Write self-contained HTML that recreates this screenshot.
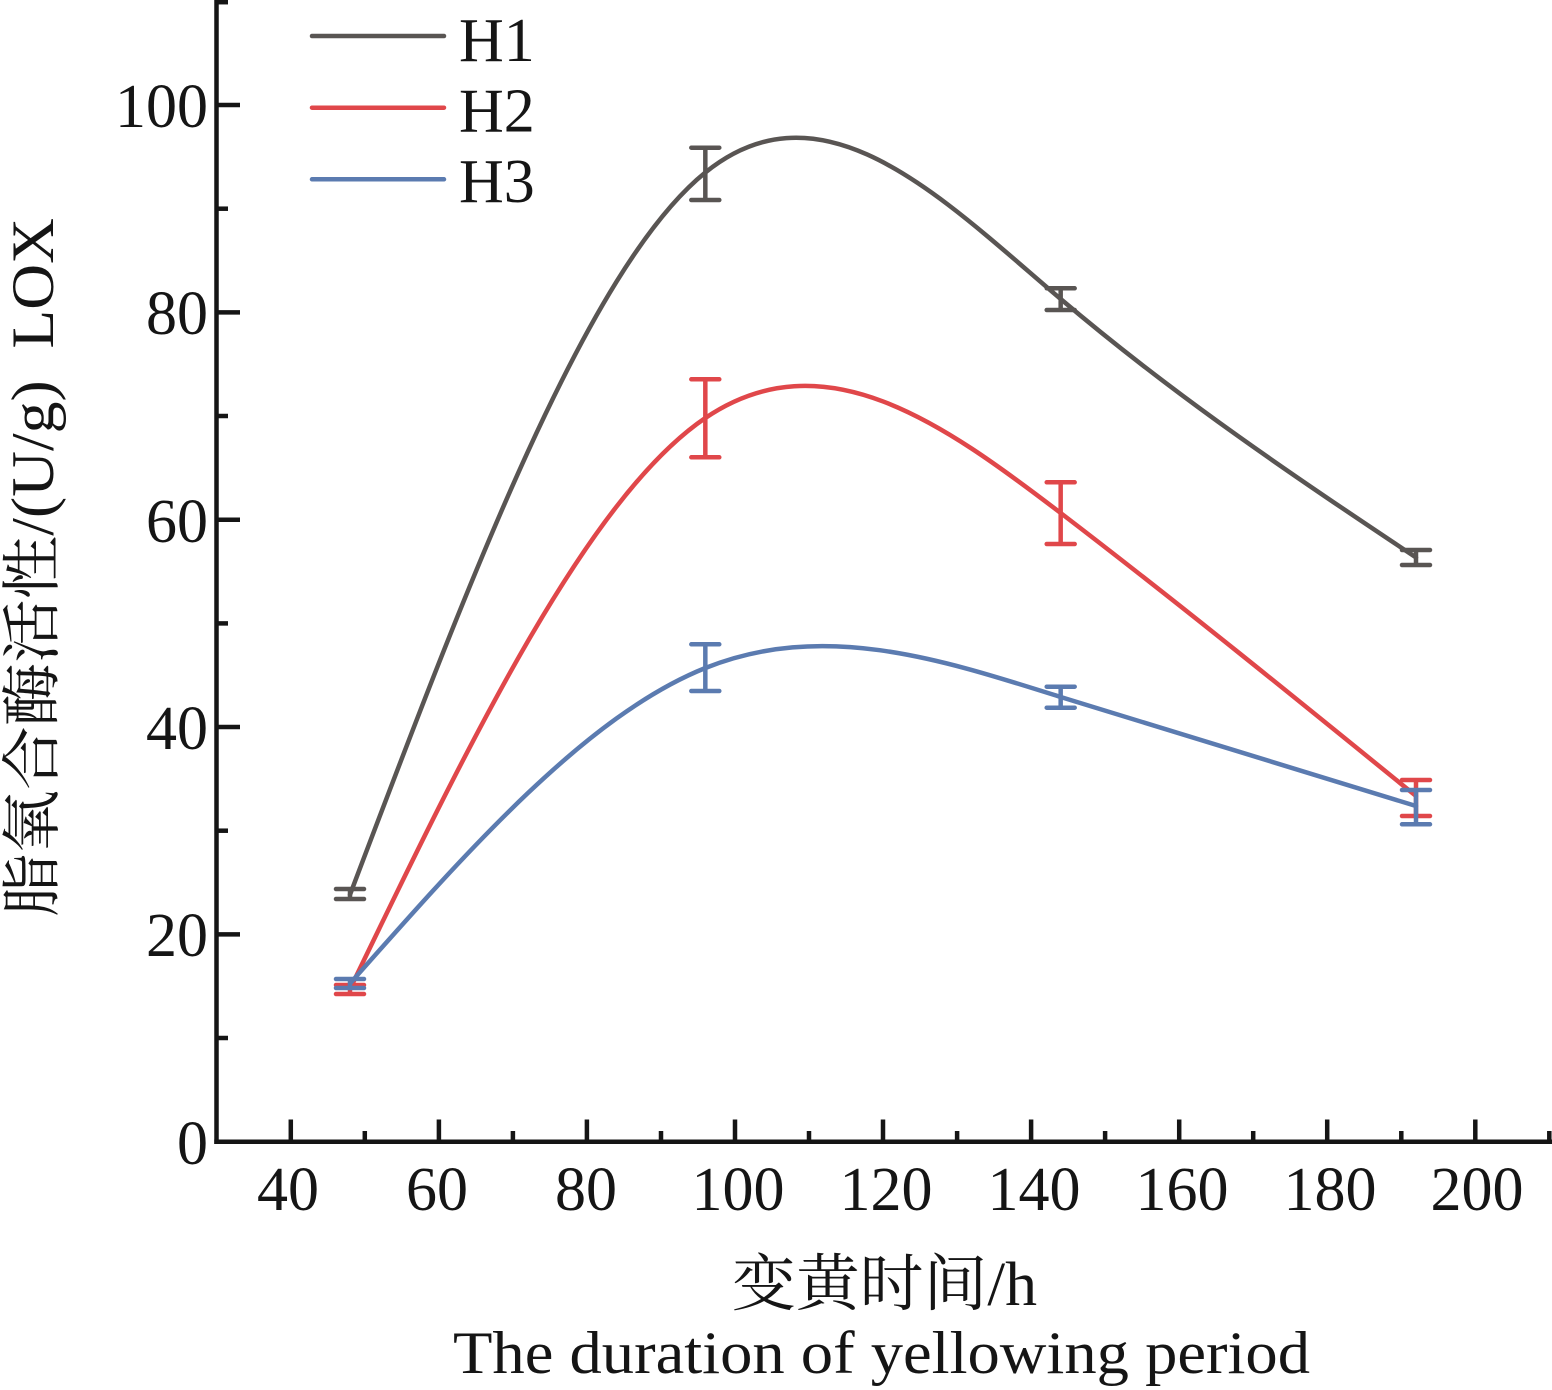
<!DOCTYPE html>
<html>
<head>
<meta charset="utf-8">
<style>
html,body{margin:0;padding:0;background:#fff;}
svg{display:block;}
</style>
</head>
<body>
<svg width="1552" height="1390" viewBox="0 0 1552 1390" xmlns="http://www.w3.org/2000/svg">
<rect width="1552" height="1390" fill="#fff"/>
<g stroke="#151515" stroke-width="4.5" fill="none">
  <line x1="216.5" y1="0" x2="216.5" y2="1144"/>
  <line x1="214.3" y1="1141.7" x2="1552" y2="1141.7"/>
  <line x1="216" y1="934.4" x2="240" y2="934.4"/>
  <line x1="216" y1="727.0" x2="240" y2="727.0"/>
  <line x1="216" y1="519.7" x2="240" y2="519.7"/>
  <line x1="216" y1="312.4" x2="240" y2="312.4"/>
  <line x1="216" y1="105.0" x2="240" y2="105.0"/>
  <line x1="216" y1="1038.0" x2="228" y2="1038.0"/>
  <line x1="216" y1="830.7" x2="228" y2="830.7"/>
  <line x1="216" y1="623.4" x2="228" y2="623.4"/>
  <line x1="216" y1="416.0" x2="228" y2="416.0"/>
  <line x1="216" y1="208.7" x2="228" y2="208.7"/>
  <line x1="216" y1="2.2" x2="228" y2="2.2"/>
  <line x1="290.8" y1="1142" x2="290.8" y2="1119.5"/>
  <line x1="438.9" y1="1142" x2="438.9" y2="1119.5"/>
  <line x1="586.9" y1="1142" x2="586.9" y2="1119.5"/>
  <line x1="735.0" y1="1142" x2="735.0" y2="1119.5"/>
  <line x1="883.0" y1="1142" x2="883.0" y2="1119.5"/>
  <line x1="1031.1" y1="1142" x2="1031.1" y2="1119.5"/>
  <line x1="1179.2" y1="1142" x2="1179.2" y2="1119.5"/>
  <line x1="1327.2" y1="1142" x2="1327.2" y2="1119.5"/>
  <line x1="1475.3" y1="1142" x2="1475.3" y2="1119.5"/>
  <line x1="364.8" y1="1142" x2="364.8" y2="1131"/>
  <line x1="512.9" y1="1142" x2="512.9" y2="1131"/>
  <line x1="661.0" y1="1142" x2="661.0" y2="1131"/>
  <line x1="809.0" y1="1142" x2="809.0" y2="1131"/>
  <line x1="957.1" y1="1142" x2="957.1" y2="1131"/>
  <line x1="1105.1" y1="1142" x2="1105.1" y2="1131"/>
  <line x1="1253.2" y1="1142" x2="1253.2" y2="1131"/>
  <line x1="1401.3" y1="1142" x2="1401.3" y2="1131"/>
  <line x1="1549.3" y1="1142" x2="1549.3" y2="1131"/>
</g>

<g font-family="'Liberation Serif', serif" font-size="62" fill="#151515" text-anchor="end">
  <text x="208" y="1164">0</text>
  <text x="208" y="956">20</text>
  <text x="208" y="749">40</text>
  <text x="208" y="542">60</text>
  <text x="208" y="334">80</text>
  <text x="208" y="127">100</text>
</g>
<g font-family="'Liberation Serif', serif" font-size="62" fill="#151515" text-anchor="middle">
  <text x="288" y="1210">40</text>
  <text x="437" y="1210">60</text>
  <text x="586" y="1210">80</text>
  <text x="738" y="1210">100</text>
  <text x="886" y="1210">120</text>
  <text x="1034" y="1210">140</text>
  <text x="1182" y="1210">160</text>
  <text x="1330" y="1210">180</text>
  <text x="1477" y="1210">200</text>
</g>

<text transform="translate(53,567.5) rotate(-90)" text-anchor="middle" font-family="'Liberation Serif','Noto Serif CJK SC',serif" font-size="60" fill="#151515" textLength="699" lengthAdjust="spacingAndGlyphs">脂氧合酶活性/(U/g)&#160;&#160;LOX</text>
<text x="884.5" y="1305" text-anchor="middle" font-family="'Liberation Serif','Noto Serif CJK SC',serif" font-size="62" fill="#151515" textLength="305" lengthAdjust="spacingAndGlyphs">变黄时间/h</text>
<text x="881.5" y="1373" text-anchor="middle" font-family="'Liberation Serif',serif" font-size="60" fill="#151515" textLength="857" lengthAdjust="spacingAndGlyphs">The duration of yellowing period</text>

<g stroke-width="4.5" stroke-linecap="round">
  <line x1="312" y1="36" x2="444" y2="36" stroke="#595553"/>
  <line x1="312" y1="107.7" x2="444" y2="107.7" stroke="#e0474a"/>
  <line x1="312" y1="179.3" x2="444" y2="179.3" stroke="#5b7bb0"/>
</g>
<g font-family="'Liberation Serif', serif" font-size="62" fill="#151515">
  <text x="459" y="61">H1</text>
  <text x="459" y="131.5">H2</text>
  <text x="459" y="202">H3</text>
</g>

<g stroke="#595553" stroke-width="4.5" fill="none" stroke-linecap="round">
  <path d="M350,894.7 C468.44,581.46 586.89,268.22 705.33,172.5 C823.78,76.78 942.22,198.58 1060.67,299 C1179.11,399.42 1297.56,478.46 1416,557.5"/>
  <path d="M350,889 V899 M336,889 H364 M336,899 H364"/>
  <path d="M705.33,147.7 V200 M691.3,147.7 H719.3 M691.3,200 H719.3"/>
  <path d="M1060.67,288.3 V310 M1046.7,288.3 H1074.7 M1046.7,310 H1074.7"/>
  <path d="M1416,550 V565 M1402,550 H1430 M1402,565 H1430"/>
</g>
<g stroke="#e0474a" stroke-width="4.5" fill="none" stroke-linecap="round">
  <path d="M350,989 C468.44,743.65 586.89,498.29 705.33,418 C823.78,337.71 942.22,422.49 1060.67,513 C1179.11,603.51 1297.56,699.76 1416,796"/>
  <path d="M350,985 V994 M336,985 H364 M336,994 H364"/>
  <path d="M705.33,379.3 V457.3 M691.3,379.3 H719.3 M691.3,457.3 H719.3"/>
  <path d="M1060.67,482.3 V544 M1046.7,482.3 H1074.7 M1046.7,544 H1074.7"/>
  <path d="M1416,780 V816 M1402,780 H1430 M1402,816 H1430"/>
</g>
<g stroke="#5b7bb0" stroke-width="4.5" fill="none" stroke-linecap="round">
  <path d="M350,983.5 C468.44,849.49 586.89,715.48 705.33,668 C823.78,620.52 942.22,659.58 1060.67,697 C1179.11,734.42 1297.56,770.21 1416,806"/>
  <path d="M350,979 V988 M336,979 H364 M336,988 H364"/>
  <path d="M705.33,644.3 V691 M691.3,644.3 H719.3 M691.3,691 H719.3"/>
  <path d="M1060.67,686.7 V707.7 M1046.7,686.7 H1074.7 M1046.7,707.7 H1074.7"/>
  <path d="M1416,790 V824.3 M1402,790 H1430 M1402,824.3 H1430"/>
</g>
</svg>
</body>
</html>
